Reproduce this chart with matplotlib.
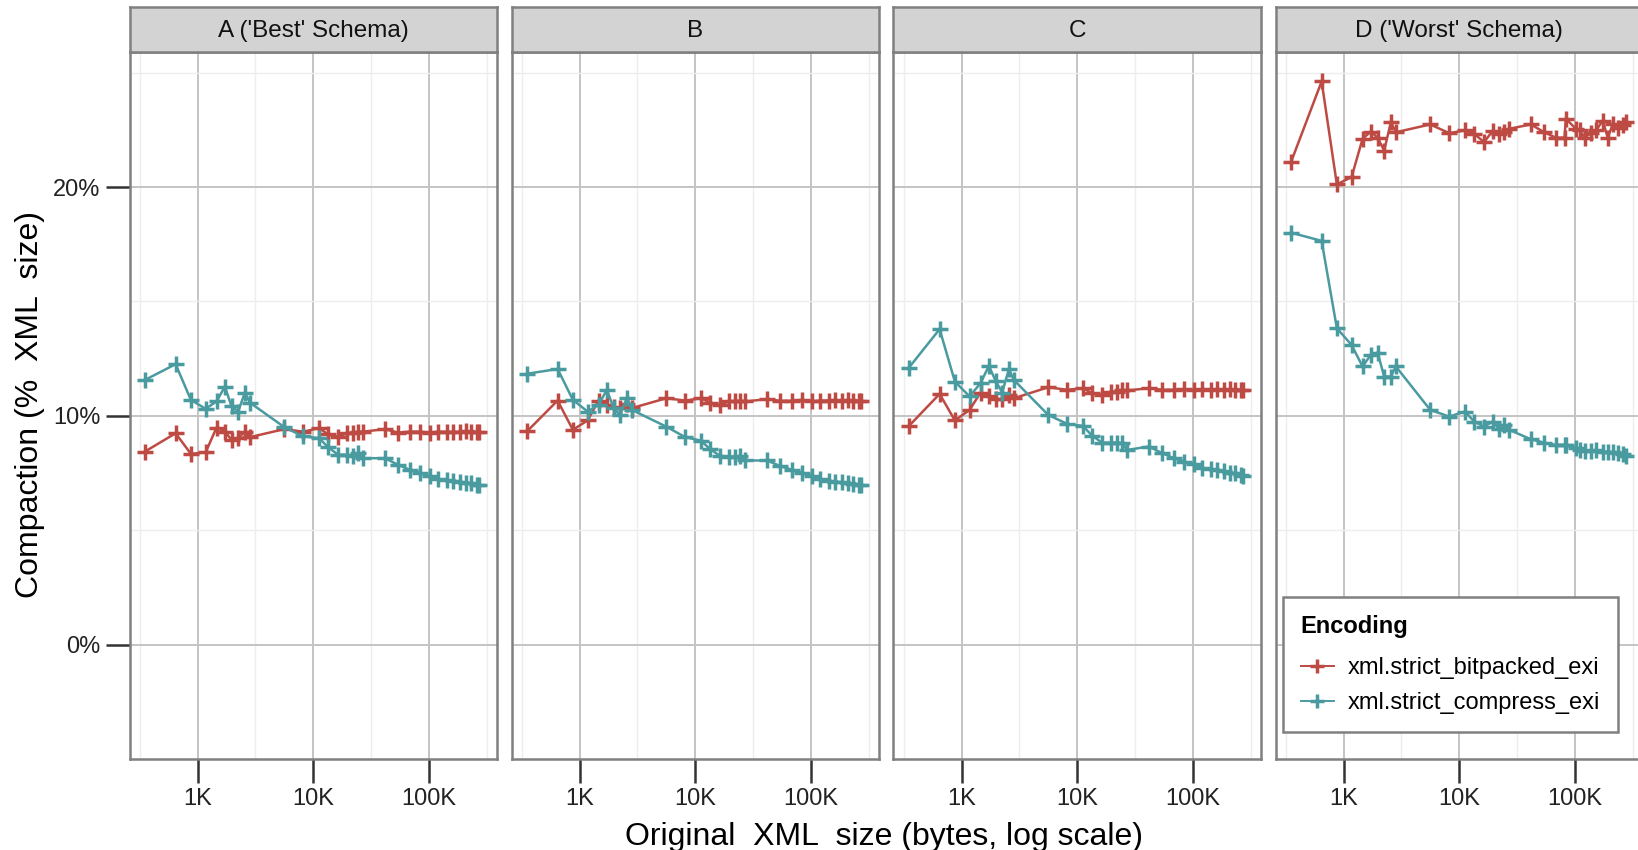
import numpy as np
import matplotlib
matplotlib.use("Agg")
import matplotlib.pyplot as plt

plt.rcParams['font.family'] = ['Liberation Sans', 'DejaVu Sans']

# document sizes in bytes (panels A-C share them)
sizes = [351, 646, 875, 1173, 1459, 1722, 1968, 2244, 2564, 2832,
         5612, 8185, 11190, 13460, 16400, 19400, 22140, 24440, 27000,
         41540, 54200, 68400, 83400, 101800, 120200, 142000, 162000,
         185000, 211000, 233000, 258000, 272000]

a_bitpacked = [8.44, 9.24, 8.34, 8.40, 9.49, 9.31, 8.95, 9.02, 9.31, 9.07,
               9.42, 9.31, 9.46, 9.20, 9.07, 9.24, 9.27, 9.31, 9.31,
               9.42, 9.27, 9.31, 9.31, 9.27, 9.31, 9.30, 9.30,
               9.30, 9.33, 9.30, 9.30, 9.30]
a_compress = [11.57, 12.26, 10.70, 10.31, 10.63, 11.28, 10.41, 10.19, 11.02, 10.58,
              9.51, 9.10, 9.03, 8.63, 8.30, 8.30, 8.25, 8.37, 8.15,
              8.15, 7.86, 7.64, 7.52, 7.35, 7.23, 7.20, 7.17,
              7.13, 7.08, 7.06, 6.98, 6.97]

b_bitpacked = [9.32, 10.67, 9.39, 9.80, 10.67, 10.48, 10.38, 10.34, 10.52, 10.34,
               10.77, 10.67, 10.77, 10.58, 10.48, 10.63, 10.63, 10.66, 10.63,
               10.73, 10.66, 10.66, 10.70, 10.63, 10.67, 10.67, 10.70,
               10.67, 10.70, 10.67, 10.67, 10.66]
b_compress = [11.84, 12.05, 10.70, 10.19, 10.48, 11.14, 10.34, 10.04, 10.80, 10.26,
              9.53, 9.07, 8.92, 8.54, 8.25, 8.22, 8.22, 8.25, 8.05,
              8.05, 7.81, 7.64, 7.52, 7.35, 7.23, 7.17, 7.13,
              7.09, 7.06, 7.03, 6.98, 6.97]

c_bitpacked = [9.56, 10.96, 9.80, 10.26, 11.02, 10.85, 10.73, 10.73, 10.92, 10.77,
               11.25, 11.14, 11.21, 10.99, 10.92, 11.06, 11.06, 11.11, 11.11,
               11.21, 11.14, 11.14, 11.17, 11.11, 11.17, 11.14, 11.17,
               11.14, 11.17, 11.14, 11.14, 11.14]
c_compress = [12.11, 13.79, 11.50, 10.85, 11.43, 12.19, 11.53, 11.02, 12.04, 11.57,
              10.04, 9.65, 9.56, 9.13, 8.83, 8.83, 8.83, 8.81, 8.51,
              8.66, 8.37, 8.15, 8.00, 7.90, 7.71, 7.67, 7.64,
              7.60, 7.52, 7.49, 7.42, 7.38]

# panel D has a few extra documents near 100K
sizes_d = [351, 646, 875, 1173, 1459, 1722, 1968, 2244, 2564, 2832,
           5612, 8185, 11190, 13460, 16400, 19400, 22140, 24440, 27000,
           41540, 54200, 68400, 81300, 83400, 101800, 109600, 121000,
           138000, 152500, 174000, 192000, 212000, 234000, 259000, 277000]
d_bitpacked = [21.09, 24.62, 20.12, 20.44, 22.11, 22.43, 22.16, 21.60, 22.84, 22.40,
               22.74, 22.36, 22.48, 22.33, 21.97, 22.45, 22.33, 22.40, 22.55,
               22.74, 22.40, 22.16, 22.16, 22.99, 22.55, 22.48, 22.16,
               22.36, 22.48, 22.91, 22.16, 22.74, 22.59, 22.70, 22.84]
d_compress = [18.01, 17.65, 13.83, 13.10, 12.16, 12.67, 12.77, 11.72, 11.72, 12.16,
              10.26, 9.97, 10.19, 9.75, 9.53, 9.75, 9.42, 9.61, 9.39,
              8.98, 8.83, 8.73, 8.73, 8.72, 8.59, 8.50, 8.48,
              8.48, 8.51, 8.44, 8.42, 8.40, 8.38, 8.32, 8.25]

panel_titles = ["A ('Best' Schema)", "B", "C", "D ('Worst' Schema)"]
series_names = ["xml.strict_bitpacked_exi", "xml.strict_compress_exi"]
x_ticks = [1000, 10000, 100000]
x_labels = ["1K", "10K", "100K"]
y_ticks = [0, 10, 20]
y_labels = ["0%", "10%", "20%"]

panels = [
    (sizes, a_bitpacked, a_compress),
    (sizes, b_bitpacked, b_compress),
    (sizes, c_bitpacked, c_compress),
    (sizes_d, d_bitpacked, d_compress),
]

red = '#BE4A44'
teal = '#4A9BA0'
W, H = 1638, 850
fig = plt.figure(figsize=(W / 100, H / 100), dpi=100)

left0, step, pw = 129.5, 382.0, 367.0
top, bottom = 51.7, 759.0
strip_top = 7.3

for i, (xs, yb, yc) in enumerate(panels):
    x0 = left0 + i * step
    ax = fig.add_axes([x0 / W, 1 - bottom / H, pw / W, (bottom - top) / H])
    ax.set_xscale('log')
    ax.set_xlim(258, 383700)
    ax.set_ylim(-4.99, 25.92)
    ax.set_xticks(x_ticks)
    ax.set_xticklabels(x_labels)
    ax.set_xticks([10 ** 2.5, 10 ** 3.5, 10 ** 4.5, 10 ** 5.5], minor=True)
    ax.set_yticks(y_ticks)
    ax.set_yticks([-5, 5, 15, 25], minor=True)
    if i == 0:
        ax.set_yticklabels(y_labels)
    else:
        ax.tick_params(axis='y', which='major', length=0, labelleft=False)
    ax.tick_params(which='major', length=17, width=1.8, color='#333333',
                   labelsize=17, pad=4, labelcolor='#222222')
    if i > 0:
        ax.tick_params(axis='y', which='major', length=0)
    ax.tick_params(which='minor', length=0)
    ax.grid(True, which='major', color='#C4C4C4', linewidth=1.4)
    ax.grid(True, which='minor', color='#EDEDED', linewidth=1.0)
    ax.set_axisbelow(True)
    for s in ax.spines.values():
        s.set_color('#808080')
        s.set_linewidth(1.8)

    ax.plot(xs, yb, color=red, lw=1.8, marker='+', ms=12, mew=2.5,
            label=series_names[0])
    ax.plot(xs, yc, color=teal, lw=1.8, marker='+', ms=12, mew=2.5,
            label=series_names[1])

    # facet strip
    sax = fig.add_axes([x0 / W, 1 - top / H, pw / W, (top - strip_top) / H])
    sax.set_facecolor('#D3D3D3')
    sax.set_xticks([])
    sax.set_yticks([])
    for s in sax.spines.values():
        s.set_color('#808080')
        s.set_linewidth(1.8)
    sax.text(0.5, 0.47, panel_titles[i], ha='center', va='center',
             fontsize=17.5, color='#111111', transform=sax.transAxes)
    if i == 3:
        handles, labels = ax.get_legend_handles_labels()

leg = fig.legend(handles, labels, title='Encoding', loc='upper left',
                 bbox_to_anchor=(1283 / W, 1 - 597 / H), borderaxespad=0,
                 fontsize=17,
                 title_fontproperties={'weight': 'bold', 'size': 17},
                 frameon=True, fancybox=False, edgecolor='#808080',
                 framealpha=1, borderpad=0.75, handlelength=1.4,
                 handletextpad=0.6, labelspacing=0.55, alignment='left',
                 markerscale=0.8)
leg.get_frame().set_linewidth(1.8)
leg._legend_box.sep = 14
for line in leg.get_lines():
    line.set_linewidth(1.4)

fig.text(884 / W, 1 - 837 / H, "Original  XML  size (bytes, log scale)",
         ha='center', va='center', fontsize=23)
fig.text(30 / W, 1 - 405 / H, "Compaction (%  XML  size)", rotation=90,
         ha='center', va='center', fontsize=23)

fig.savefig('out.png', dpi=100)
